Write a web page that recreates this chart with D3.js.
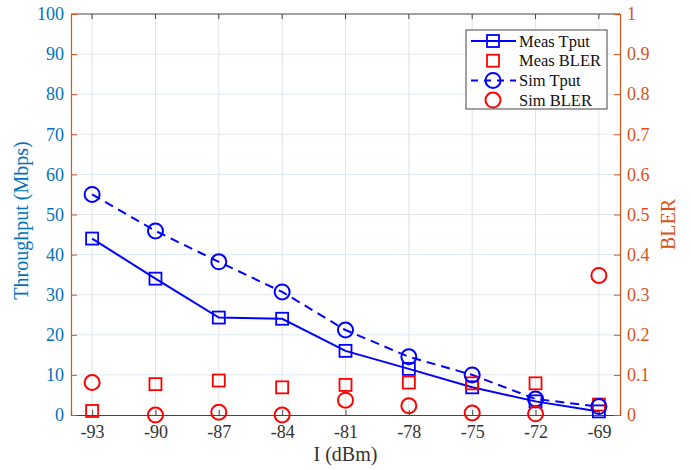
<!DOCTYPE html>
<html>
<head>
<meta charset="utf-8">
<script src="https://cdn.jsdelivr.net/npm/d3@7"></script>
<style>
  body { margin: 0; background: #fff; }
  text { font-family: "Liberation Serif", serif; }
</style>
</head>
<body>
<div id="container"></div>
<script>
/* DATA */
const power = [-93, -90, -87, -84, -81, -78, -75, -72, -69];
const measTput = [44, 34, 24.3, 24, 16, 11.5, 6.9, 3.4, 0.9];
const simTput = [55, 45.9, 38.2, 30.7, 21.2, 14.5, 10, 4, 2.1];
const measBler = [0.01, 0.077, 0.086, 0.069, 0.075, 0.081, 0.079, 0.079, 0.026];
const simBler = [0.081, 0, 0.007, 0, 0.037, 0.023, 0.005, 0.003, 0.348];
const leftTicks = [0, 10, 20, 30, 40, 50, 60, 70, 80, 90, 100];
const rightTicks = [0, 0.1, 0.2, 0.3, 0.4, 0.5, 0.6, 0.7, 0.8, 0.9, 1];

/* CONSTANTS */
const W = 691, H = 470;
const margin = { top: 14, bottom: 55, left: 71, right: 71 };
const blueTick = "#0072BD", orange = "#D95319";
const serif = "Liberation Serif";

const svg = d3.select("#container").append("svg")
  .attr("width", W).attr("height", H)
  .attr("font-family", serif);

const x = d3.scaleLinear().domain([-94, -68]).range([margin.left, W - margin.right]);
const yL = d3.scaleLinear().domain([0, 100]).range([H - margin.bottom, margin.top]);
const yR = d3.scaleLinear().domain([0, 1]).range([H - margin.bottom, margin.top]);

const x0 = margin.left, x1 = W - margin.right, yb = H - margin.bottom, yt = margin.top;

// grid
svg.append("g").selectAll("line").data(leftTicks.slice(1, -1)).join("line")
  .attr("x1", x0).attr("x2", x1)
  .attr("y1", d => yL(d)).attr("y2", d => yL(d))
  .attr("stroke", "#dbe8f3").attr("stroke-width", 1);
svg.append("g").selectAll("line").data(power).join("line")
  .attr("y1", yt).attr("y2", yb)
  .attr("x1", d => x(d)).attr("x2", d => x(d))
  .attr("stroke", "#e3e3e3").attr("stroke-width", 1);

// box top
svg.append("line").attr("x1", x0).attr("x2", x1).attr("y1", yt).attr("y2", yt)
  .attr("stroke", "#444").attr("stroke-width", 1.2);

// bottom axis
const xAxis = d3.axisBottom(x).tickValues(power).tickSize(-5).tickPadding(10);
const gx = svg.append("g").attr("transform", `translate(0,${yb})`).call(xAxis)
  .attr("font-family", serif);
gx.select(".domain").attr("stroke", "#444").attr("stroke-width", 1.2);
gx.selectAll(".tick line").attr("stroke", "#444");
gx.selectAll("text").attr("fill", "#333").style("font-size", "18px")
  .text(d => String(d));

// top ticks
svg.append("g").selectAll("line").data(power).join("line")
  .attr("x1", d => x(d)).attr("x2", d => x(d))
  .attr("y1", yt).attr("y2", yt + 5)
  .attr("stroke", "#444");

// left axis
const gl = svg.append("g").attr("transform", `translate(${x0},0)`)
  .call(d3.axisLeft(yL).tickValues(leftTicks).tickSize(-6).tickPadding(7))
  .attr("font-family", serif);
gl.select(".domain").attr("stroke", orange).attr("stroke-width", 1.2);
gl.selectAll(".tick line").attr("stroke", orange);
gl.selectAll("text").attr("fill", blueTick).style("font-size", "18px");

// right axis
const gr = svg.append("g").attr("transform", `translate(${x1},0)`)
  .call(d3.axisRight(yR).tickValues(rightTicks).tickSize(-6).tickPadding(7)
    .tickFormat(d => d === 0 || d === 1 ? d : d3.format(".1f")(d)))
  .attr("font-family", serif);
gr.select(".domain").attr("stroke", orange).attr("stroke-width", 1.2);
gr.selectAll(".tick line").attr("stroke", orange);
gr.selectAll("text").attr("fill", orange).style("font-size", "18px");

// axis labels
svg.append("text")
  .attr("transform", `translate(28,${(yt + yb) / 2 + 6}) rotate(-90)`)
  .attr("text-anchor", "middle").attr("fill", blueTick)
  .style("font-size", "20px").text("Throughput (Mbps)");
svg.append("text")
  .attr("transform", `translate(675,${(yt + yb) / 2 + 10}) rotate(-90)`)
  .attr("text-anchor", "middle").attr("fill", orange)
  .style("font-size", "20px").text("BLER");
svg.append("text")
  .attr("x", (x0 + x1) / 2).attr("y", 461)
  .attr("text-anchor", "middle").attr("fill", "#333")
  .style("font-size", "20px").text("I (dBm)");

// lines
const tputLine = (vals) => d3.line().x((d, i) => x(power[i])).y(d => yL(d))(vals);
svg.append("path").attr("d", tputLine(simTput))
  .attr("fill", "none").attr("stroke", "blue").attr("stroke-width", 2)
  .attr("stroke-dasharray", "9,6");
svg.append("path").attr("d", tputLine(measTput))
  .attr("fill", "none").attr("stroke", "blue").attr("stroke-width", 2);

// markers
function squares(vals, scale, color) {
  svg.append("g").selectAll("rect").data(vals).join("rect")
    .attr("x", (d, i) => x(power[i]) - 6).attr("y", d => scale(d) - 6)
    .attr("width", 12).attr("height", 12)
    .attr("fill", "none").attr("stroke", color).attr("stroke-width", 1.8);
}
function circles(vals, scale, color) {
  svg.append("g").selectAll("circle").data(vals).join("circle")
    .attr("cx", (d, i) => x(power[i])).attr("cy", d => scale(d))
    .attr("r", 7.5)
    .attr("fill", "none").attr("stroke", color).attr("stroke-width", 2);
}
squares(measTput, yL, "blue");
squares(measBler, yR, "red");
circles(simTput, yL, "blue");
circles(simBler, yR, "red");

// legend
const legend = svg.append("g").attr("transform", "translate(466,30)");
legend.append("rect").attr("width", 141).attr("height", 79)
  .attr("fill", "#fff").attr("stroke", "#444").attr("stroke-width", 1);
const items = [
  { name: "Meas Tput", color: "blue", marker: "square", line: "solid" },
  { name: "Meas BLER", color: "red", marker: "square", line: "none" },
  { name: "Sim Tput", color: "blue", marker: "circle", line: "dash" },
  { name: "Sim BLER", color: "red", marker: "circle", line: "none" }
];
items.forEach((it, i) => {
  const cy = 11 + i * 19.7;
  const g = legend.append("g").attr("transform", `translate(0,${cy})`);
  if (it.line !== "none") {
    g.append("line").attr("x1", 5).attr("x2", 50).attr("y1", 0).attr("y2", 0)
      .attr("stroke", it.color).attr("stroke-width", 2)
      .attr("stroke-dasharray", it.line === "dash" ? "7,6" : null);
  }
  if (it.marker === "square") {
    g.append("rect").attr("x", 21).attr("y", -6).attr("width", 12).attr("height", 12)
      .attr("fill", "none").attr("stroke", it.color).attr("stroke-width", 1.8);
  } else {
    g.append("circle").attr("cx", 27).attr("cy", 0).attr("r", 7.5)
      .attr("fill", "none").attr("stroke", it.color).attr("stroke-width", 2);
  }
  g.append("text").attr("x", 53).attr("y", 5.5).attr("fill", "#111")
    .style("font-size", "16.5px").text(it.name);
});
</script>
</body>
</html>
